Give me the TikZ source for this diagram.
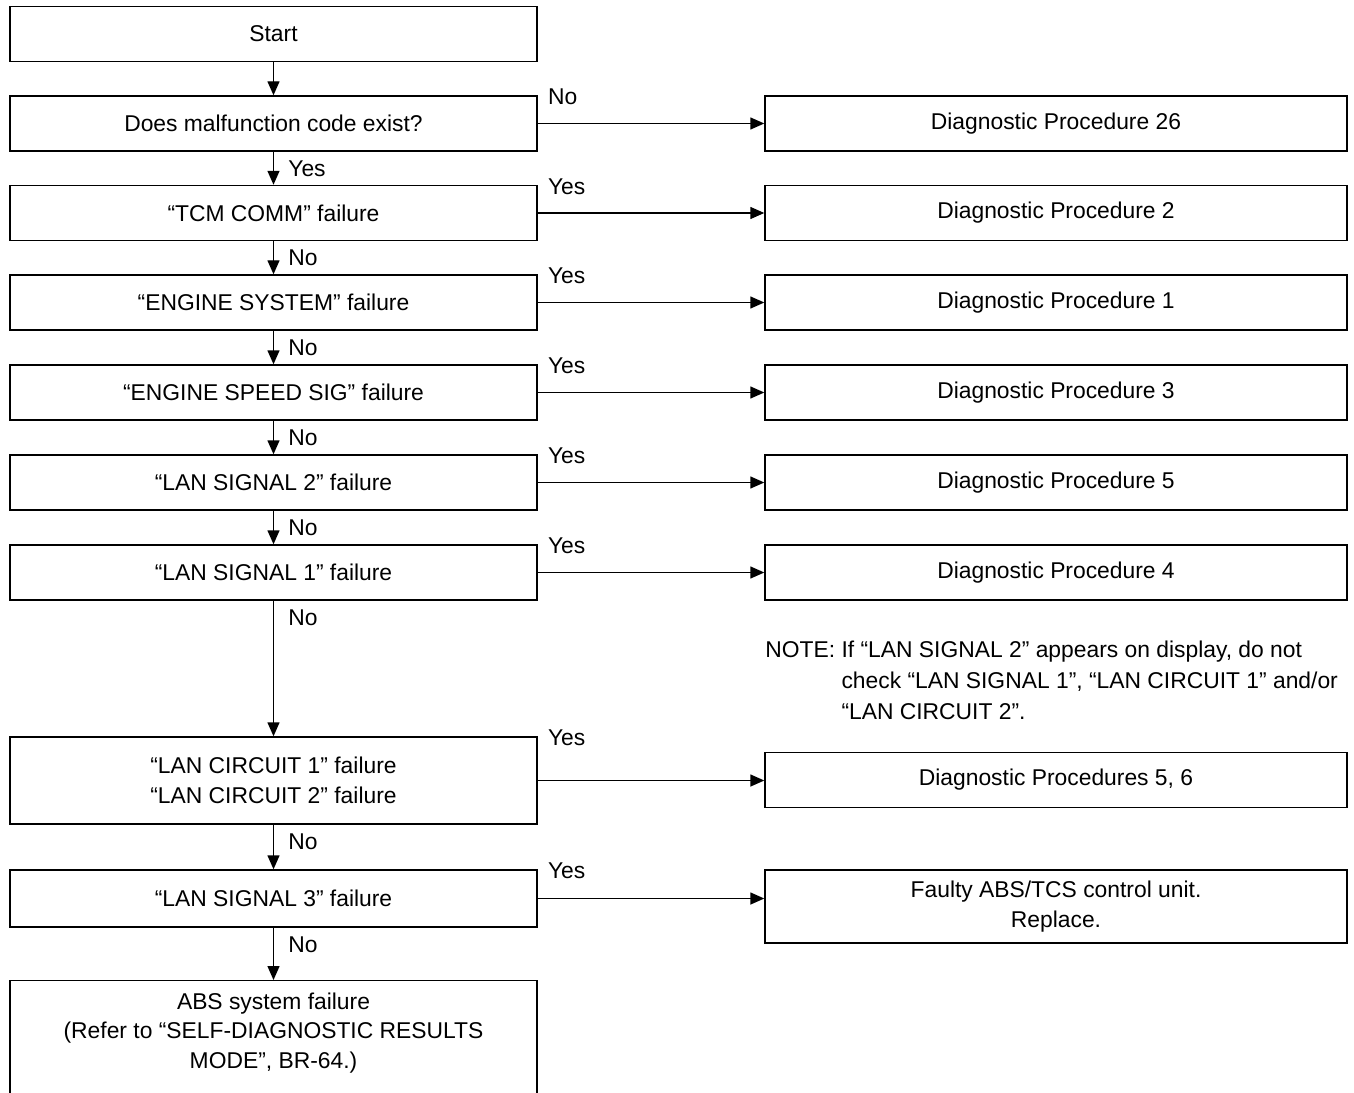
\documentclass[tikz,border=0pt]{standalone}
\usepackage{fontspec}
\setmainfont{Liberation Sans}
\usetikzlibrary{arrows.meta}

\begin{document}
\begin{tikzpicture}[every node/.style={font=\fontsize{13}{17}\selectfont}]
		\tikzstyle{unit}=[draw,line width=0.8pt,shape=rectangle,minimum width=10.54cm,minimum height=1.1cm,align=center,inner sep=0pt]
		\tikzstyle{result}=[draw,line width=0.8pt,shape=rectangle,minimum width=11.64cm,minimum height=1.1cm,align=center,inner sep=0pt]
		\tikzstyle{arr}=[line width=0.8pt,-{Triangle[length=0.28cm,width=0.24cm]}]
		\tikzstyle{ans}=[anchor=west,inner sep=0pt]

		\useasboundingbox (0,0) rectangle (27.08,-21.86);

    % Checks
		\node[unit](start) at (5.47,-0.68){Start};
		\node[unit](q0) at (5.47,-2.47){Does malfunction code exist?};
		\node[unit](q1) at (5.47,-4.26){“TCM COMM” failure};
		\node[unit](q2) at (5.47,-6.05){“ENGINE SYSTEM” failure};
		\node[unit](q3) at (5.47,-7.85){“ENGINE SPEED SIG” failure};
		\node[unit](q4) at (5.47,-9.65){“LAN SIGNAL 2” failure};
		\node[unit](q5) at (5.47,-11.45){“LAN SIGNAL 1” failure};
		\node[unit,minimum height=1.74cm](q6) at (5.47,-15.61){“LAN CIRCUIT 1” failure\\“LAN CIRCUIT 2” failure};
		\node[unit,minimum height=1.14cm](q7) at (5.47,-17.97){“LAN SIGNAL 3” failure};
		\node[unit,anchor=north,minimum height=2.6cm](abs) at (5.47,-19.6){};
		\node[align=center](abstext) at (5.47,-20.66){ABS system failure\\(Refer to “SELF-DIAGNOSTIC RESULTS\\MODE”, BR-64.)};

    % Procedures
		\node[result](r0) at (21.12,-2.47){Diagnostic Procedure 26};
		\node[result](r1) at (21.12,-4.26){Diagnostic Procedure 2};
		\node[result](r2) at (21.12,-6.05){Diagnostic Procedure 1};
		\node[result](r3) at (21.12,-7.85){Diagnostic Procedure 3};
		\node[result](r4) at (21.12,-9.65){Diagnostic Procedure 5};
		\node[result](r5) at (21.12,-11.45){Diagnostic Procedure 4};
		\node[result](r6) at (21.12,-15.6){Diagnostic Procedures 5, 6};
		\node[result,minimum height=1.46cm](r7) at (21.12,-18.13){Faulty ABS/TCS control unit.\\Replace.};

    % Note
		\node[anchor=north west,inner sep=0pt,font=\fontsize{13}{17.8}\selectfont](note) at (15.3,-12.7){%
			\begin{tabular}{@{}l@{ }l@{}}
			NOTE: & If “LAN SIGNAL 2” appears on display, do not\\
			      & check “LAN SIGNAL 1”, “LAN CIRCUIT 1” and/or\\
			      & “LAN CIRCUIT 2”.
			\end{tabular}};

		\draw[arr] (start) -- (q0);
		\draw[arr] (q0) -- (q1);
		\draw[arr] (q1) -- (q2);
		\draw[arr] (q2) -- (q3);
		\draw[arr] (q3) -- (q4);
		\draw[arr] (q4) -- (q5);
		\draw[arr] (q5) -- (q6);
		\draw[arr] (q6) -- (q7);
		\draw[arr] (q7) -- (abs);

		\draw[arr] (q0) -- (r0);
		\draw[arr] (q1) -- (r1);
		\draw[arr] (q2) -- (r2);
		\draw[arr] (q3) -- (r3);
		\draw[arr] (q4) -- (r4);
		\draw[arr] (q5) -- (r5);
		\draw[arr] (q6.east) -- (q6.east -| r6.west);
		\draw[arr] (q7.east) -- (q7.east -| r7.west);

		\node[ans](h0) at ([xshift=0.2cm,yshift=-0.03cm]q0.north east){No};
		\node[ans](h1) at ([xshift=0.2cm,yshift=-0.03cm]q1.north east){Yes};
		\node[ans](h2) at ([xshift=0.2cm,yshift=-0.03cm]q2.north east){Yes};
		\node[ans](h3) at ([xshift=0.2cm,yshift=-0.03cm]q3.north east){Yes};
		\node[ans](h4) at ([xshift=0.2cm,yshift=-0.03cm]q4.north east){Yes};
		\node[ans](h5) at ([xshift=0.2cm,yshift=-0.03cm]q5.north east){Yes};
		\node[ans](h6) at ([xshift=0.2cm,yshift=-0.03cm]q6.north east){Yes};
		\node[ans](h7) at ([xshift=0.2cm,yshift=-0.03cm]q7.north east){Yes};

		\node[ans](v0) at ([xshift=0.29cm,yshift=-0.34cm]q0.south){Yes};
		\node[ans](v1) at ([xshift=0.29cm,yshift=-0.34cm]q1.south){No};
		\node[ans](v2) at ([xshift=0.29cm,yshift=-0.34cm]q2.south){No};
		\node[ans](v3) at ([xshift=0.29cm,yshift=-0.34cm]q3.south){No};
		\node[ans](v4) at ([xshift=0.29cm,yshift=-0.34cm]q4.south){No};
		\node[ans](v5) at ([xshift=0.29cm,yshift=-0.34cm]q5.south){No};
		\node[ans](v6) at ([xshift=0.29cm,yshift=-0.34cm]q6.south){No};
		\node[ans](v7) at ([xshift=0.29cm,yshift=-0.34cm]q7.south){No};
  \end{tikzpicture}
\end{document}
